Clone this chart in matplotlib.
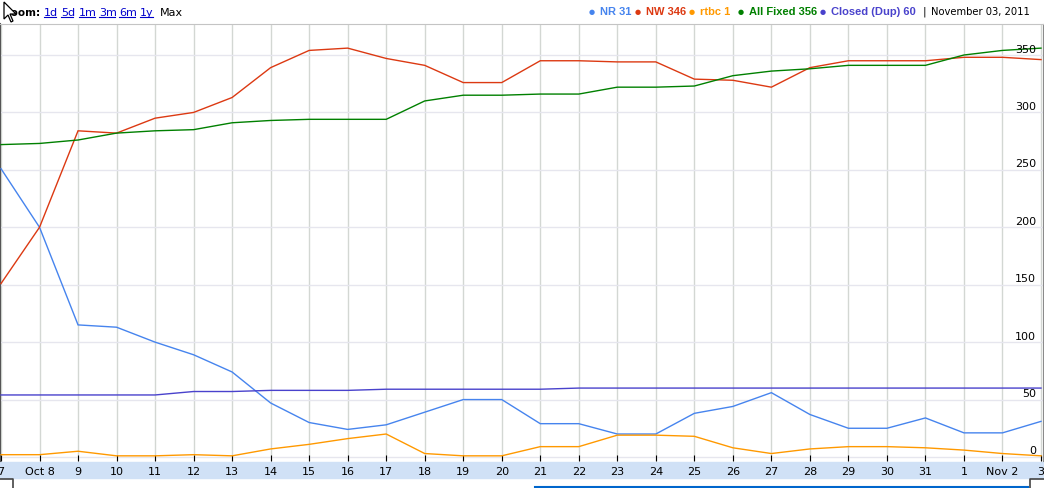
import matplotlib
matplotlib.use("Agg")
import matplotlib.pyplot as plt
from matplotlib.lines import Line2D
from matplotlib.patches import Rectangle, Polygon
from matplotlib import transforms

# Daily counts, Oct 7 .. Nov 3 2011
day_labels = ["7", "Oct 8", "9", "10", "11", "12", "13", "14", "15", "16",
              "17", "18", "19", "20", "21", "22", "23", "24", "25", "26",
              "27", "28", "29", "30", "31", "1", "Nov 2", "3"]

nr = [251, 200, 115, 113, 100, 89, 74, 47, 30, 24, 28, 39, 50, 50,
      29, 29, 20, 20, 38, 44, 56, 37, 25, 25, 34, 21, 21, 31]
nw = [151, 200, 284, 282, 295, 300, 313, 339, 354, 356, 347, 341, 326, 326,
      345, 345, 344, 344, 329, 328, 322, 339, 345, 345, 345, 348, 348, 346]
rtbc = [2, 2, 5, 1, 1, 2, 1, 7, 11, 16, 20, 3, 1, 1,
        9, 9, 19, 19, 18, 8, 3, 7, 9, 9, 8, 6, 3, 1]
all_fixed = [272, 273, 276, 282, 284, 285, 291, 293, 294, 294, 294, 310, 315, 315,
             316, 316, 322, 322, 323, 332, 336, 338, 341, 341, 341, 350, 354, 356]
closed_dup = [54, 54, 54, 54, 54, 57, 57, 58, 58, 58, 59, 59, 59, 59,
              59, 60, 60, 60, 60, 60, 60, 60, 60, 60, 60, 60, 60, 60]

series_names = ["NR 31", "NW 346", "rtbc 1", "All Fixed 356", "Closed (Dup) 60"]
series_colors = ["#4684ee", "#dc3912", "#ff9900", "#008000", "#4942cc"]
y_ticks = [0, 50, 100, 150, 200, 250, 300, 350]
zoom_links = ["1d", "5d", "1m", "3m", "6m", "1y"]
date_text = "November 03, 2011"

W, H = 1044, 489
fig = plt.figure(figsize=(W / 100, H / 100), dpi=100)


def fx(x):
    return x / W


def fy(y):
    return 1 - y / H


# plot area in pixels: x 0..1043, y 25..462
ax = fig.add_axes((fx(0), fy(462), fx(1043), (462 - 25) / H))
ax.set_zorder(1)
ax.patch.set_alpha(0)
px_per_day = 1040 / 27
ax.set_xlim(-1 / px_per_day, 1042 / px_per_day)
ax.set_ylim(-3.5, 377)

x = list(range(len(day_labels)))
data = [nr, nw, rtbc, all_fixed, closed_dup]
for vals, col in zip(data, series_colors):
    ax.plot(x, vals, color=col, lw=1.0, solid_joinstyle="miter", zorder=3)

# grid
for d in x:
    ax.axvline(d, color="#d3d7d3", lw=1.0, zorder=1)
for v in y_ticks:
    ax.axhline(v, color="#e6e6ee", lw=1.0, zorder=1)

ax.set_xticks(x)
ax.set_xticklabels(day_labels, fontsize=8)
ax.tick_params(axis="x", direction="in", length=4, width=0.8, pad=3.5, colors="black")
ax.set_yticks([])

off = transforms.offset_copy(ax.transData, fig=fig, x=0, y=6.5, units="dots")
blend = transforms.blended_transform_factory(ax.transAxes, off)
for v in y_ticks:
    ax.text(1036 / 1043, v, str(v), transform=blend,
            ha="right", va="center", fontsize=8, color="black", zorder=4)

ax.spines["left"].set_color("#555555")
ax.spines["left"].set_linewidth(1.5)
ax.spines["right"].set_color("#8a8a8a")
ax.spines["top"].set_color("#c4c4c4")
ax.spines["bottom"].set_visible(False)

# x axis band (behind the axes so the tick labels sit on it)
fig.patches.append(Rectangle((fx(0), fy(479)), 1, (479 - 463) / H,
                             transform=fig.transFigure, color="#d0e1f6", zorder=-1))
fig.lines.append(Line2D([fx(0), fx(13), fx(13)], [fy(479.5), fy(479.5), fy(489)],
                        transform=fig.transFigure, color="#444444", lw=1.2))
fig.lines.append(Line2D([fx(1030), fx(1030), fx(1044)], [fy(489), fy(480), fy(480)],
                        transform=fig.transFigure, color="#444444", lw=1.2))
fig.lines.append(Line2D([fx(535), fx(1028)], [fy(488), fy(488)],
                        transform=fig.transFigure, color="#0066cc", lw=1.5))

# top bar: zoom links
fig.text(fx(4), fy(12.5), "Zoom:", fontsize=7.5, fontweight="bold", va="center", ha="left")
link_x = [44, 61, 79, 99, 119, 140]
link_w = [12, 12, 16, 16, 16, 13]
for lx, lw_, lab in zip(link_x, link_w, zoom_links):
    fig.text(fx(lx), fy(12.5), lab, fontsize=8, color="#0000cc", va="center", ha="left")
    fig.lines.append(Line2D([fx(lx), fx(lx + lw_)], [fy(17.5), fy(17.5)],
                            transform=fig.transFigure, color="#0000cc", lw=0.8))
fig.text(fx(160), fy(12.5), "Max", fontsize=8, color="black", va="center", ha="left")

# mouse cursor over the "Z"
cur = [(4, 3), (4, 20), (8, 16), (11, 23), (13, 22), (10, 15), (16, 15)]
fig.patches.append(Polygon([(fx(a), fy(b)) for a, b in cur], closed=True,
                           transform=fig.transFigure, facecolor="white",
                           edgecolor="black", lw=0.9, zorder=5))

# top bar: legend
dot_x = [592, 638, 692, 741, 823]
for dx, name, col in zip(dot_x, series_names, series_colors):
    fig.text(fx(dx), fy(12), "\u25cf", fontsize=5, color=col, va="center", ha="center")
    fig.text(fx(dx + 8), fy(12), name, fontsize=8, fontweight="bold", color=col,
             va="center", ha="left", family="Liberation Sans")
fig.text(fx(923), fy(12), "|", fontsize=8, color="black", va="center", ha="left")
fig.text(fx(931), fy(12), date_text, fontsize=7.2, color="black", va="center", ha="left")

fig.savefig("out.png", dpi=100)
